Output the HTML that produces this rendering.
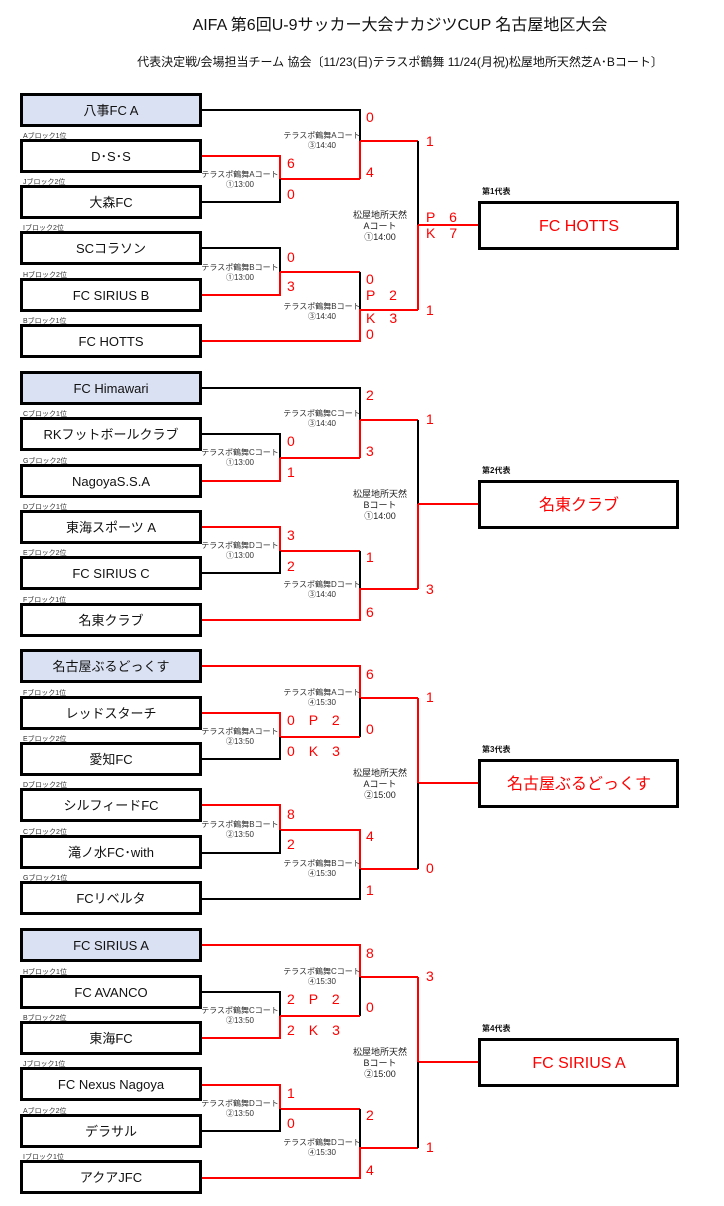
<!DOCTYPE html>
<html><head><meta charset="utf-8"><style>
html,body{margin:0;padding:0;background:#fff;}
svg{display:block;}
text{font-family:"Liberation Sans","Noto Sans CJK JP",sans-serif;}
.t{font-size:13px;fill:#111;text-anchor:middle;}
.w{font-size:16px;fill:#f00;text-anchor:middle;}
.s{font-size:14px;fill:#f00;}
.c{font-size:8px;fill:#333;text-anchor:middle;}
.v{font-size:9px;fill:#222;text-anchor:middle;}
.b{font-size:7px;fill:#333;}
.r{font-size:8px;fill:#111;font-weight:bold;}
.k{stroke:#000;stroke-width:2;fill:none;}
.d{stroke:#f00;stroke-width:2;fill:none;}
.bx{fill:#fff;stroke:#000;stroke-width:3;}
.bh{fill:#dae1f2;stroke:#000;stroke-width:3;}
</style></head><body>
<svg width="724" height="1206" viewBox="0 0 724 1206" xmlns="http://www.w3.org/2000/svg">
<text x="400" y="30" style="font-size:16px;fill:#111;text-anchor:middle">AIFA  第6回U-9サッカー大会ナカジツCUP  名古屋地区大会</text>
<text x="400" y="66" style="font-size:12px;fill:#111;text-anchor:middle">代表決定戦/会場担当チーム  協会〔11/23(日)テラスポ鶴舞  11/24(月祝)松屋地所天然芝A･Bコート〕</text>

<!-- G1 lines -->
<path class="k" d="M201 110H360V141"/><path class="d" d="M360 141V179M360 141H418"/>
<path class="d" d="M201 156H280V179H360"/><path class="k" d="M280 179V202H201"/>
<path class="k" d="M201 248H280V272"/><path class="d" d="M280 272V295H201M280 272H360"/>
<path class="k" d="M360 272V310"/><path class="d" d="M201 341H360V310H418"/>
<path class="k" d="M418 141V225"/><path class="d" d="M418 225V310M418 225H480"/>
<!-- G2 -->
<path class="k" d="M201 388H360V420"/><path class="d" d="M360 420V458M360 420H418"/>
<path class="k" d="M201 434H280V458"/><path class="d" d="M280 458V481H201M280 458H360"/>
<path class="d" d="M201 527H280V551H360"/><path class="k" d="M280 551V573H201"/>
<path class="k" d="M360 551V589"/><path class="d" d="M201 620H360V589H418"/>
<path class="k" d="M418 420V504"/><path class="d" d="M418 504V589M418 504H480"/>
<!-- G3 -->
<path class="d" d="M201 666H360V698H418"/><path class="k" d="M360 698V737"/>
<path class="d" d="M201 713H280V737H360"/><path class="k" d="M280 737V759H201"/>
<path class="d" d="M201 805H280V830H360V869H418"/><path class="k" d="M280 830V853H201"/>
<path class="k" d="M360 869V899H201"/>
<path class="d" d="M418 698V783H480"/><path class="k" d="M418 783V869"/>
<!-- G4 -->
<path class="d" d="M201 945H360V977H418"/><path class="k" d="M360 977V1016"/>
<path class="k" d="M201 992H280V1016"/><path class="d" d="M280 1016V1038H201M280 1016H360"/>
<path class="d" d="M201 1085H280V1109H360"/><path class="k" d="M280 1109V1131H201"/>
<path class="k" d="M360 1109V1148"/><path class="d" d="M201 1178H360V1148H418"/>
<path class="d" d="M418 977V1062H480"/><path class="k" d="M418 1062V1148"/>

<!-- Boxes G1 -->
<rect class="bh" x="21.5" y="94.5" width="179" height="31"/><text class="t" x="111" y="115">八事FC A</text>
<text class="b" x="23" y="138">Aブロック1位</text>
<rect class="bx" x="21.5" y="140.5" width="179" height="31"/><text class="t" x="111" y="161">D･S･S</text>
<text class="b" x="23" y="184">Jブロック2位</text>
<rect class="bx" x="21.5" y="186.5" width="179" height="31"/><text class="t" x="111" y="207">大森FC</text>
<text class="b" x="23" y="230">Iブロック2位</text>
<rect class="bx" x="21.5" y="232.5" width="179" height="31"/><text class="t" x="111" y="253">SCコラソン</text>
<text class="b" x="23" y="277">Hブロック2位</text>
<rect class="bx" x="21.5" y="279.5" width="179" height="31"/><text class="t" x="111" y="300">FC SIRIUS B</text>
<text class="b" x="23" y="323">Bブロック1位</text>
<rect class="bx" x="21.5" y="325.5" width="179" height="31"/><text class="t" x="111" y="346">FC HOTTS</text>
<!-- G2 -->
<rect class="bh" x="21.5" y="372.5" width="179" height="31"/><text class="t" x="111" y="393">FC Himawari</text>
<text class="b" x="23" y="416">Cブロック1位</text>
<rect class="bx" x="21.5" y="418.5" width="179" height="31"/><text class="t" x="111" y="439">RKフットボールクラブ</text>
<text class="b" x="23" y="463">Gブロック2位</text>
<rect class="bx" x="21.5" y="465.5" width="179" height="31"/><text class="t" x="111" y="486">NagoyaS.S.A</text>
<text class="b" x="23" y="509">Dブロック1位</text>
<rect class="bx" x="21.5" y="511.5" width="179" height="31"/><text class="t" x="111" y="532">東海スポーツ A</text>
<text class="b" x="23" y="555">Eブロック2位</text>
<rect class="bx" x="21.5" y="557.5" width="179" height="31"/><text class="t" x="111" y="578">FC SIRIUS C</text>
<text class="b" x="23" y="602">Fブロック1位</text>
<rect class="bx" x="21.5" y="604.5" width="179" height="31"/><text class="t" x="111" y="625">名東クラブ</text>
<!-- G3 -->
<rect class="bh" x="21.5" y="650.5" width="179" height="31"/><text class="t" x="111" y="671">名古屋ぶるどっくす</text>
<text class="b" x="23" y="695">Fブロック1位</text>
<rect class="bx" x="21.5" y="697.5" width="179" height="31"/><text class="t" x="111" y="718">レッドスターチ</text>
<text class="b" x="23" y="741">Eブロック2位</text>
<rect class="bx" x="21.5" y="743.5" width="179" height="31"/><text class="t" x="111" y="764">愛知FC</text>
<text class="b" x="23" y="787">Dブロック2位</text>
<rect class="bx" x="21.5" y="789.5" width="179" height="31"/><text class="t" x="111" y="810">シルフィードFC</text>
<text class="b" x="23" y="834">Cブロック2位</text>
<rect class="bx" x="21.5" y="836.5" width="179" height="31"/><text class="t" x="111" y="857">滝ノ水FC･with</text>
<text class="b" x="23" y="880">Gブロック1位</text>
<rect class="bx" x="21.5" y="882.5" width="179" height="31"/><text class="t" x="111" y="903">FCリベルタ</text>
<!-- G4 -->
<rect class="bh" x="21.5" y="929.5" width="179" height="31"/><text class="t" x="111" y="950">FC SIRIUS A</text>
<text class="b" x="23" y="974">Hブロック1位</text>
<rect class="bx" x="21.5" y="976.5" width="179" height="31"/><text class="t" x="111" y="997">FC AVANCO</text>
<text class="b" x="23" y="1020">Bブロック2位</text>
<rect class="bx" x="21.5" y="1022.5" width="179" height="31"/><text class="t" x="111" y="1043">東海FC</text>
<text class="b" x="23" y="1066">Jブロック1位</text>
<rect class="bx" x="21.5" y="1068.5" width="179" height="31"/><text class="t" x="111" y="1089">FC Nexus Nagoya</text>
<text class="b" x="23" y="1113">Aブロック2位</text>
<rect class="bx" x="21.5" y="1115.5" width="179" height="31"/><text class="t" x="111" y="1136">デラサル</text>
<text class="b" x="23" y="1159">Iブロック1位</text>
<rect class="bx" x="21.5" y="1161.5" width="179" height="31"/><text class="t" x="111" y="1182">アクアJFC</text>

<!-- Winner boxes -->
<text class="r" x="482" y="194">第1代表</text>
<rect class="bx" x="479.5" y="202.5" width="198" height="46"/><text class="w" x="579" y="231">FC HOTTS</text>
<text class="r" x="482" y="473">第2代表</text>
<rect class="bx" x="479.5" y="481.5" width="198" height="46"/><text class="w" x="579" y="510">名東クラブ</text>
<text class="r" x="482" y="752">第3代表</text>
<rect class="bx" x="479.5" y="760.5" width="198" height="46"/><text class="w" x="579" y="789">名古屋ぶるどっくす</text>
<text class="r" x="482" y="1031">第4代表</text>
<rect class="bx" x="479.5" y="1039.5" width="198" height="46"/><text class="w" x="579" y="1068">FC SIRIUS A</text>

<!-- Court labels G1 -->
<text class="c" x="322" y="138">テラスポ鶴舞Aコート</text><text class="c" x="322" y="148">③14:40</text>
<text class="c" x="240" y="177">テラスポ鶴舞Aコート</text><text class="c" x="240" y="187">①13:00</text>
<text class="v" x="380" y="218">松屋地所天然</text><text class="v" x="380" y="229">Aコート</text><text class="v" x="380" y="240">①14:00</text>
<text class="c" x="240" y="270">テラスポ鶴舞Bコート</text><text class="c" x="240" y="280">①13:00</text>
<text class="c" x="322" y="309">テラスポ鶴舞Bコート</text><text class="c" x="322" y="319">③14:40</text>
<!-- G2 -->
<text class="c" x="322" y="416">テラスポ鶴舞Cコート</text><text class="c" x="322" y="426">③14:40</text>
<text class="c" x="240" y="455">テラスポ鶴舞Cコート</text><text class="c" x="240" y="465">①13:00</text>
<text class="v" x="380" y="497">松屋地所天然</text><text class="v" x="380" y="508">Bコート</text><text class="v" x="380" y="519">①14:00</text>
<text class="c" x="240" y="548">テラスポ鶴舞Dコート</text><text class="c" x="240" y="558">①13:00</text>
<text class="c" x="322" y="587">テラスポ鶴舞Dコート</text><text class="c" x="322" y="597">③14:40</text>
<!-- G3 -->
<text class="c" x="322" y="695">テラスポ鶴舞Aコート</text><text class="c" x="322" y="705">④15:30</text>
<text class="c" x="240" y="734">テラスポ鶴舞Aコート</text><text class="c" x="240" y="744">②13:50</text>
<text class="v" x="380" y="776">松屋地所天然</text><text class="v" x="380" y="787">Aコート</text><text class="v" x="380" y="798">②15:00</text>
<text class="c" x="240" y="827">テラスポ鶴舞Bコート</text><text class="c" x="240" y="837">②13:50</text>
<text class="c" x="322" y="866">テラスポ鶴舞Bコート</text><text class="c" x="322" y="876">④15:30</text>
<!-- G4 -->
<text class="c" x="322" y="974">テラスポ鶴舞Cコート</text><text class="c" x="322" y="984">④15:30</text>
<text class="c" x="240" y="1013">テラスポ鶴舞Cコート</text><text class="c" x="240" y="1023">②13:50</text>
<text class="v" x="380" y="1055">松屋地所天然</text><text class="v" x="380" y="1066">Bコート</text><text class="v" x="380" y="1077">②15:00</text>
<text class="c" x="240" y="1106">テラスポ鶴舞Dコート</text><text class="c" x="240" y="1116">②13:50</text>
<text class="c" x="322" y="1145">テラスポ鶴舞Dコート</text><text class="c" x="322" y="1155">④15:30</text>

<!-- Scores -->
<g class="s">
<text x="366" y="122">0</text><text x="426" y="146">1</text><text x="287" y="168">6</text><text x="366" y="177">4</text><text x="287" y="199">0</text>
<text x="426" y="222">P　6</text><text x="426" y="238">K　7</text>
<text x="287" y="262">0</text><text x="366" y="284">0</text><text x="287" y="291">3</text><text x="366" y="300">P　2</text>
<text x="426" y="315">1</text><text x="366" y="323">K　3</text><text x="366" y="339">0</text>
<text x="366" y="400">2</text><text x="426" y="424">1</text><text x="287" y="446">0</text><text x="366" y="456">3</text><text x="287" y="477">1</text>
<text x="287" y="540">3</text><text x="366" y="562">1</text><text x="287" y="571">2</text><text x="426" y="594">3</text><text x="366" y="617">6</text>
<text x="366" y="679">6</text><text x="426" y="702">1</text><text x="287" y="725">0　P　2</text><text x="366" y="734">0</text><text x="287" y="756">0　K　3</text>
<text x="287" y="819">8</text><text x="366" y="841">4</text><text x="287" y="849">2</text><text x="426" y="873">0</text><text x="366" y="895">1</text>
<text x="366" y="958">8</text><text x="426" y="981">3</text><text x="287" y="1004">2　P　2</text><text x="366" y="1012">0</text><text x="287" y="1035">2　K　3</text>
<text x="287" y="1098">1</text><text x="366" y="1120">2</text><text x="287" y="1128">0</text><text x="426" y="1152">1</text><text x="366" y="1175">4</text>
</g>
</svg>
</body></html>
